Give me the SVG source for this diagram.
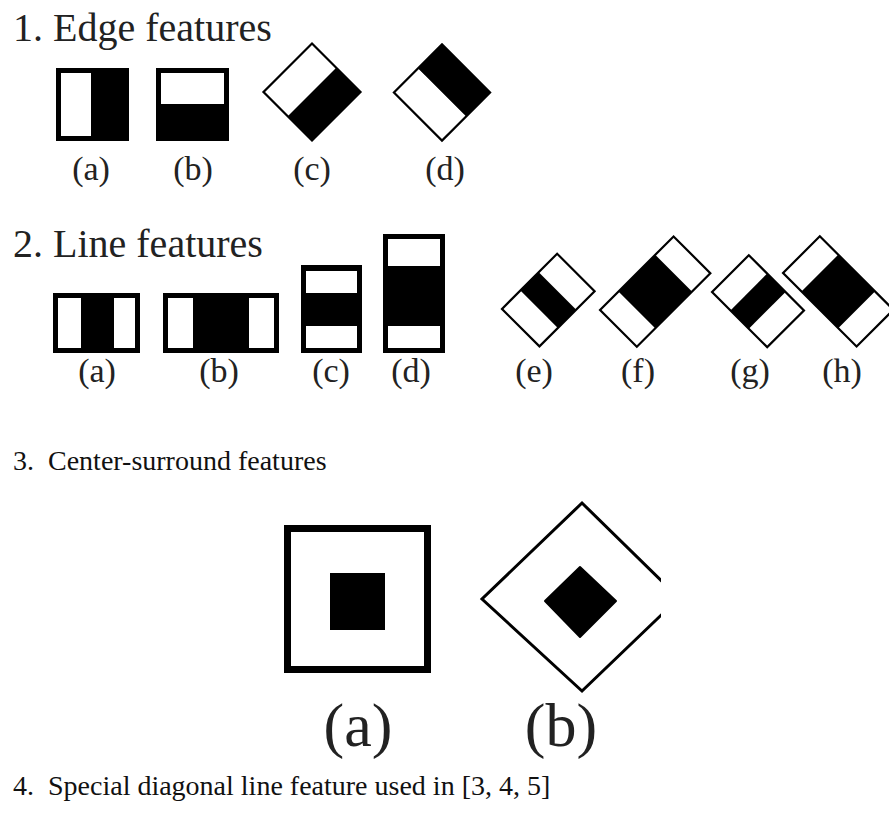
<svg xmlns="http://www.w3.org/2000/svg" width="889" height="823" viewBox="0 0 889 823">
<defs>
<style>
.t{font-family:"Liberation Serif","Times New Roman",serif;fill:#222}
.h{font-size:40px}
.lab{font-size:34px;text-anchor:middle}
.big{font-size:62px;text-anchor:middle}
.cm{font-size:28px;fill:#111}
.w{fill:#fff}
.k{fill:#000}
.o{fill:none;stroke:#000;stroke-width:2.2}
</style>
<clipPath id="cut"><rect x="0" y="480" width="661" height="230"/></clipPath>
</defs>
<rect width="889" height="823" fill="#fff"/>

<text class="t h" x="13" y="41">1. Edge features</text>
<g id="edge-a">
<rect class="k" x="56" y="68" width="73" height="73"/>
<rect class="w" x="61" y="73" width="30" height="63"/>
<text class="t lab" x="91" y="180">(a)</text>
</g>
<g id="edge-b">
<rect class="k" x="156" y="68" width="73" height="73"/>
<rect class="w" x="161" y="73" width="63" height="31"/>
<text class="t lab" x="193" y="180">(b)</text>
</g>
<g id="edge-c">
<g transform="translate(312,92) rotate(45)">
<rect class="w" x="-34.3" y="-34.3" width="34.3" height="68.6"/>
<rect class="k" x="0" y="-34.3" width="34.3" height="68.6"/>
<rect class="o" x="-34.3" y="-34.3" width="68.6" height="68.6"/>
</g>
<text class="t lab" x="312" y="180">(c)</text>
</g>
<g id="edge-d">
<g transform="translate(442,92.5) rotate(45)">
<rect class="k" x="-34" y="-34" width="68" height="34"/>
<rect class="w" x="-34" y="0" width="68" height="34"/>
<rect class="o" x="-34" y="-34" width="68" height="68"/>
</g>
<text class="t lab" x="445" y="180">(d)</text>
</g>

<text class="t h" x="13" y="257">2. Line features</text>
<g id="line-a">
<rect class="k" x="53" y="293" width="87" height="60"/>
<rect class="w" x="58" y="298" width="23" height="50"/>
<rect class="w" x="114" y="298" width="21" height="50"/>
<text class="t lab" x="97" y="382">(a)</text>
</g>
<g id="line-b">
<rect class="k" x="163" y="293" width="116" height="60"/>
<rect class="w" x="168" y="298" width="25" height="50"/>
<rect class="w" x="249" y="298" width="25" height="50"/>
<text class="t lab" x="219" y="382">(b)</text>
</g>
<g id="line-c">
<rect class="k" x="301" y="265" width="61" height="88"/>
<rect class="w" x="306" y="271" width="51" height="22"/>
<rect class="w" x="306" y="326" width="51" height="22"/>
<text class="t lab" x="331" y="382">(c)</text>
</g>
<g id="line-d">
<rect class="k" x="383" y="234" width="62" height="119"/>
<rect class="w" x="388" y="239" width="52" height="27"/>
<rect class="w" x="388" y="326" width="52" height="22"/>
<text class="t lab" x="411" y="382">(d)</text>
</g>
<g id="line-e">
<g transform="translate(548.3,300.1) rotate(-45)">
<rect class="w" x="-39" y="-26.5" width="78" height="53"/>
<rect class="k" x="-13" y="-26.5" width="26" height="53"/>
<rect class="o" x="-39" y="-26.5" width="78" height="53"/>
</g>
<text class="t lab" x="534" y="382">(e)</text>
</g>
<g id="line-f">
<g transform="translate(655.2,291.6) rotate(-45)">
<rect class="w" x="-52" y="-26" width="104" height="52"/>
<rect class="k" x="-26" y="-26" width="52" height="52"/>
<rect class="o" x="-52" y="-26" width="104" height="52"/>
</g>
<text class="t lab" x="638" y="382">(f)</text>
</g>
<g id="line-g">
<g transform="translate(758,301.2) rotate(45)">
<rect class="w" x="-39" y="-26" width="78" height="52"/>
<rect class="k" x="-13" y="-26" width="26" height="52"/>
<rect class="o" x="-39" y="-26" width="78" height="52"/>
</g>
<text class="t lab" x="750" y="382">(g)</text>
</g>
<g id="line-h">
<g transform="translate(838.2,291.4) rotate(45)">
<rect class="w" x="-52" y="-26" width="104" height="52"/>
<rect class="k" x="-26" y="-26" width="52" height="52"/>
<rect class="o" x="-52" y="-26" width="104" height="52"/>
</g>
<text class="t lab" x="842" y="382">(h)</text>
</g>

<text class="t cm" y="470"><tspan x="13">3.</tspan><tspan x="48">Center-surround features</tspan></text>
<g id="cs-a">
<rect x="287.5" y="528.5" width="140" height="141" fill="#fff" stroke="#000" stroke-width="7"/>
<rect class="k" x="330" y="573" width="55" height="57"/>
<text class="t big" x="358" y="746">(a)</text>
</g>
<g id="cs-b">
<g clip-path="url(#cut)">
<polygon points="582,503 679,598 582,691 482,599" fill="#fff" stroke="#000" stroke-width="3"/>
</g>
<polygon points="580,567 616,601 580,637 545,601" class="k" stroke="#000" stroke-width="2" stroke-linejoin="round"/>
<text class="t big" x="561" y="746">(b)</text>
</g>

<text class="t cm" y="795"><tspan x="13">4.</tspan><tspan x="48">Special diagonal line feature used in [3, 4, 5]</tspan></text>
</svg>
